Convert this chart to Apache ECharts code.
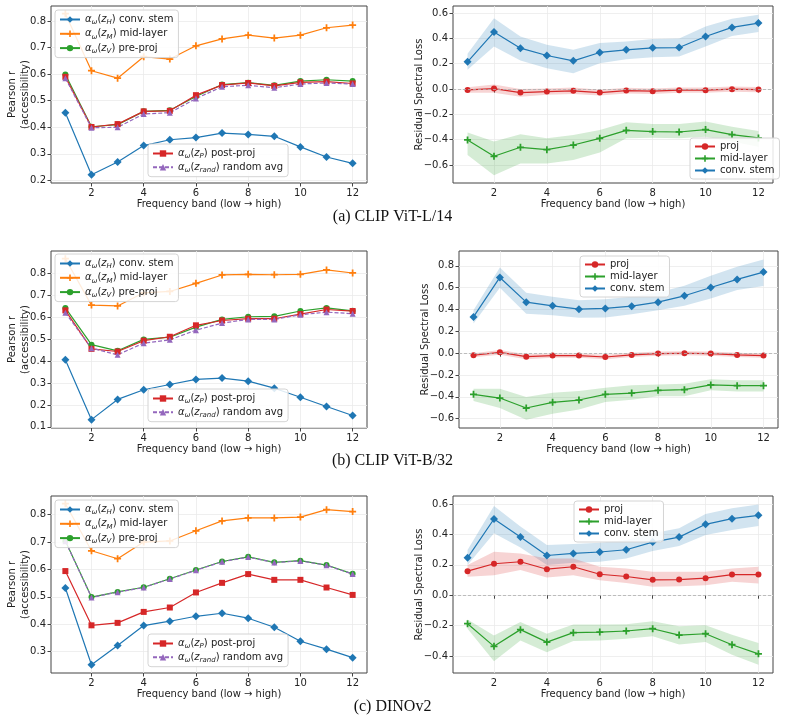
<!DOCTYPE html>
<html>
<head>
<meta charset="utf-8">
<script src="https://cdn.jsdelivr.net/npm/echarts@6/dist/echarts.min.js"></script>
<style>
  html, body { margin: 0; padding: 0; background: #fff; }
  #chart { width: 785px; height: 722px; }
</style>
</head>
<body>
<div id="chart"></div>
<script>
// frequency bands on x
const bands = [1, 2, 3, 4, 5, 6, 7, 8, 9, 10, 11, 12];
const xTicks = [2, 4, 6, 8, 10, 12];

// ---- (a) CLIP ViT-L/14 ----
const aStem = [0.455, 0.221, 0.269, 0.331, 0.353, 0.361, 0.378, 0.373, 0.366, 0.326, 0.288, 0.264];
const aMid = [0.828, 0.613, 0.585, 0.666, 0.657, 0.707, 0.733, 0.747, 0.736, 0.747, 0.775, 0.785];
const aPre = [0.599, 0.402, 0.41, 0.46, 0.464, 0.516, 0.561, 0.568, 0.558, 0.574, 0.579, 0.574];
const aPost = [0.59, 0.401, 0.412, 0.46, 0.462, 0.521, 0.559, 0.567, 0.556, 0.569, 0.572, 0.565];
const aRand = [0.585, 0.398, 0.4, 0.45, 0.455, 0.508, 0.553, 0.558, 0.549, 0.563, 0.567, 0.563];

const aLossStem = [0.215, 0.45, 0.323, 0.265, 0.223, 0.289, 0.31, 0.326, 0.328, 0.415, 0.487, 0.521];
const aLossStemHi = [0.278, 0.56, 0.415, 0.35, 0.31, 0.363, 0.376, 0.395, 0.4, 0.495, 0.555, 0.587];
const aLossStemLo = [0.152, 0.336, 0.226, 0.165, 0.125, 0.204, 0.236, 0.252, 0.257, 0.336, 0.42, 0.45];
const aLossProj = [-0.007, 0.004, -0.028, -0.02, -0.014, -0.028, -0.012, -0.017, -0.009, -0.009, -0.001, -0.004];
const aLossProjHi = [0.015, 0.035, 0.0, 0.005, 0.012, -0.005, 0.01, 0.005, 0.012, 0.012, 0.02, 0.017];
const aLossProjLo = [-0.03, -0.03, -0.06, -0.045, -0.04, -0.05, -0.035, -0.04, -0.03, -0.03, -0.022, -0.025];
const aLossMid = [-0.402, -0.531, -0.46, -0.479, -0.442, -0.389, -0.326, -0.336, -0.339, -0.32, -0.36, -0.386];
const aLossMidHi = [-0.344, -0.415, -0.357, -0.389, -0.363, -0.323, -0.262, -0.276, -0.276, -0.257, -0.297, -0.331];
const aLossMidLo = [-0.52, -0.68, -0.587, -0.587, -0.56, -0.502, -0.389, -0.384, -0.389, -0.376, -0.415, -0.455];

// ---- (b) CLIP ViT-B/32 ----
const bStem = [0.405, 0.133, 0.225, 0.269, 0.293, 0.316, 0.322, 0.308, 0.276, 0.235, 0.193, 0.152];
const bMid = [0.865, 0.654, 0.65, 0.71, 0.716, 0.753, 0.791, 0.794, 0.792, 0.794, 0.814, 0.8];
const bPre = [0.641, 0.474, 0.446, 0.498, 0.508, 0.554, 0.589, 0.601, 0.603, 0.627, 0.641, 0.628];
const bPost = [0.63, 0.455, 0.443, 0.492, 0.51, 0.562, 0.584, 0.592, 0.592, 0.613, 0.634, 0.627];
const bRand = [0.619, 0.458, 0.428, 0.481, 0.496, 0.54, 0.572, 0.589, 0.589, 0.61, 0.622, 0.615];

const bLossStem = [0.332, 0.693, 0.467, 0.433, 0.403, 0.409, 0.43, 0.467, 0.525, 0.601, 0.675, 0.742];
const bLossStemHi = [0.393, 0.785, 0.552, 0.516, 0.485, 0.494, 0.516, 0.555, 0.617, 0.708, 0.791, 0.858];
const bLossStemLo = [0.271, 0.598, 0.36, 0.348, 0.323, 0.326, 0.357, 0.393, 0.433, 0.5, 0.577, 0.614];
const bLossProj = [-0.019, 0.008, -0.032, -0.022, -0.022, -0.035, -0.016, -0.004, -0.001, -0.004, -0.016, -0.022];
const bLossProjHi = [0.0, 0.03, -0.01, -0.003, -0.003, -0.015, 0.003, 0.015, 0.018, 0.015, 0.003, -0.003];
const bLossProjLo = [-0.038, -0.015, -0.055, -0.042, -0.042, -0.055, -0.035, -0.023, -0.02, -0.023, -0.035, -0.041];
const bLossMid = [-0.377, -0.411, -0.502, -0.45, -0.429, -0.377, -0.365, -0.34, -0.334, -0.291, -0.298, -0.298];
const bLossMidHi = [-0.325, -0.325, -0.401, -0.362, -0.346, -0.316, -0.294, -0.288, -0.279, -0.239, -0.249, -0.249];
const bLossMidLo = [-0.438, -0.502, -0.609, -0.554, -0.515, -0.447, -0.426, -0.395, -0.395, -0.34, -0.35, -0.35];

// ---- (c) DINOv2 ----
const cStem = [0.532, 0.252, 0.322, 0.395, 0.411, 0.429, 0.44, 0.422, 0.389, 0.338, 0.309, 0.278];
const cMid = [0.84, 0.668, 0.639, 0.7, 0.704, 0.741, 0.777, 0.788, 0.788, 0.791, 0.818, 0.811];
const cPre = [0.704, 0.499, 0.518, 0.535, 0.566, 0.598, 0.629, 0.646, 0.626, 0.632, 0.616, 0.584];
const cPost = [0.594, 0.396, 0.405, 0.445, 0.461, 0.516, 0.551, 0.583, 0.562, 0.562, 0.534, 0.507];
const cRand = [0.703, 0.498, 0.517, 0.534, 0.565, 0.597, 0.628, 0.645, 0.625, 0.631, 0.615, 0.583];

const cLossStem = [0.246, 0.501, 0.382, 0.261, 0.275, 0.284, 0.299, 0.349, 0.382, 0.466, 0.503, 0.525];
const cLossStemHi = [0.297, 0.587, 0.451, 0.33, 0.336, 0.345, 0.363, 0.407, 0.44, 0.534, 0.571, 0.596];
const cLossStemLo = [0.198, 0.407, 0.314, 0.198, 0.213, 0.22, 0.242, 0.29, 0.323, 0.396, 0.429, 0.455];
const cLossProj = [0.158, 0.207, 0.22, 0.171, 0.187, 0.138, 0.123, 0.101, 0.103, 0.112, 0.136, 0.136];
const cLossProjHi = [0.198, 0.286, 0.275, 0.242, 0.242, 0.187, 0.176, 0.154, 0.154, 0.154, 0.176, 0.187];
const cLossProjLo = [0.121, 0.132, 0.165, 0.116, 0.132, 0.099, 0.081, 0.055, 0.059, 0.066, 0.088, 0.077];
const cLossMid = [-0.187, -0.336, -0.226, -0.308, -0.246, -0.242, -0.235, -0.22, -0.262, -0.253, -0.325, -0.385];
const cLossMidHi = [-0.16, -0.264, -0.176, -0.253, -0.193, -0.193, -0.191, -0.171, -0.204, -0.198, -0.259, -0.314];
const cLossMidLo = [-0.22, -0.433, -0.297, -0.374, -0.301, -0.297, -0.286, -0.27, -0.323, -0.308, -0.391, -0.457];

// tick labels for y axes
const accTicksA = [0.2, 0.3, 0.4, 0.5, 0.6, 0.7, 0.8];
const accTicksB = [0.1, 0.2, 0.3, 0.4, 0.5, 0.6, 0.7, 0.8];
const accTicksC = [0.3, 0.4, 0.5, 0.6, 0.7, 0.8];
const lossTicksA = [-0.6, -0.4, -0.2, 0.0, 0.2, 0.4, 0.6];
const lossTicksB = [-0.6, -0.4, -0.2, 0.0, 0.2, 0.4, 0.6, 0.8];
const lossTicksC = [-0.4, -0.2, 0.0, 0.2, 0.4, 0.6];

const captions = ['(a) CLIP ViT-L/14', '(b) CLIP ViT-B/32', '(c) DINOv2'];

// tab10 colours
const BLUE = '#1f77b4', ORANGE = '#ff7f0e', GREEN = '#2ca02c', RED = '#d62728', PURPLE = '#9467bd';
const BLUE_FILL = 'rgba(31,119,180,0.2)', RED_FILL = 'rgba(214,39,40,0.2)', GREEN_FILL = 'rgba(44,160,44,0.2)';
const PLUS = 'path://M3,0H5V3H8V5H5V8H3V5H0V3H3Z';
const TEXT = '#222';

const grids = [], xAxes = [], yAxes = [], series = [], legends = [];

const tickFmt = (v) => (v < 0 ? '\u2212' : '') + Math.abs(v).toFixed(1);

function addPanel(box, yMin, yMax, yTicks, yName, yGap) {
  const i = grids.length;
  grids.push({
    left: box[0], top: box[1], width: box[2], height: box[3],
    show: true, borderColor: '#444', borderWidth: 1, backgroundColor: 'transparent'
  });
  xAxes.push({
    gridIndex: i, type: 'value', min: 0.45, max: 12.55,
    name: 'Frequency band (low \u2192 high)', nameLocation: 'middle', nameGap: 16,
    nameMoveOverlap: false,
    nameTextStyle: { fontSize: 10, color: TEXT },
    axisLine: { show: false },
    axisTick: { show: true, length: 3.5, customValues: xTicks, lineStyle: { color: '#444' } },
    axisLabel: { customValues: xTicks, fontSize: 10, color: TEXT, margin: 5 },
    splitLine: { show: true, lineStyle: { color: '#ebebeb', width: 0.8 } }
  });
  yAxes.push({
    gridIndex: i, type: 'value', min: yMin, max: yMax,
    name: yName, nameLocation: 'middle', nameGap: yGap,
    nameMoveOverlap: false,
    nameTextStyle: { fontSize: 10, color: TEXT, lineHeight: 13 },
    axisLine: { show: false },
    axisTick: { show: true, length: 3.5, customValues: yTicks, lineStyle: { color: '#444' } },
    axisLabel: { customValues: yTicks, fontSize: 10, color: TEXT, margin: 5, formatter: tickFmt },
    splitLine: { show: true, lineStyle: { color: '#ebebeb', width: 0.8 } }
  });
  return i;
}

function addLine(i, name, vals, color, symbol, size, dashed) {
  series.push({
    type: 'line', name: name, xAxisIndex: i, yAxisIndex: i,
    data: bands.map((b, k) => [b, vals[k]]),
    symbol: symbol, symbolSize: size, showAllSymbol: true,
    lineStyle: { color: color, width: 1.2, type: dashed ? [4, 2] : 'solid' },
    itemStyle: { color: color },
    z: 3
  });
  return series[series.length - 1];
}

// shaded spread: one polygon, upper edge then lower edge back
function addBand(i, lo, hi, fill) {
  series.push({
    type: 'custom', xAxisIndex: i, yAxisIndex: i, silent: true, z: 1,
    data: bands.map((b, k) => [b, lo[k], hi[k]]),
    encode: { x: 0, y: [1, 2] },
    renderItem: (params, api) => {
      if (params.dataIndex !== 0) return null;
      const top = bands.map((b, k) => api.coord([b, hi[k]]));
      const bot = bands.map((b, k) => api.coord([b, lo[k]])).reverse();
      return { type: 'polygon', shape: { points: top.concat(bot) }, style: { fill: fill } };
    }
  });
}

const mathNames = {
  zH: '{m|\u03b1}{s|\u03c9}({m|z}{s|H}) conv. stem',
  zM: '{m|\u03b1}{s|\u03c9}({m|z}{s|M}) mid-layer',
  zV: '{m|\u03b1}{s|\u03c9}({m|z}{s|V}) pre-proj',
  zP: '{m|\u03b1}{s|\u03c9}({m|z}{s|P}) post-proj',
  zR: '{m|\u03b1}{s|\u03c9}({m|z}{s|rand}) random avg'
};

const legendBase = {
  orient: 'vertical', itemWidth: 20, itemHeight: 8,
  padding: [3, 5, 3, 4],
  backgroundColor: 'rgba(255,255,255,0.85)',
  borderColor: '#d4d4d4', borderWidth: 1, borderRadius: 3,
  selectedMode: false
};

function mathLegend(left, top, names, gap) {
  legends.push(Object.assign({}, legendBase, {
    left: left, top: top, itemGap: gap,
    data: names,
    formatter: (n) => mathNames[n],
    textStyle: {
      fontSize: 10, color: TEXT, lineHeight: 13,
      rich: {
        m: { fontStyle: 'italic', fontSize: 10, color: TEXT, lineHeight: 13 },
        s: { fontStyle: 'italic', fontSize: 7, color: TEXT, lineHeight: 7, verticalAlign: 'bottom' }
      }
    }
  }));
}

function lossLegend(left, top) {
  legends.push(Object.assign({}, legendBase, {
    left: left, top: top, itemGap: 1,
    data: ['proj', 'mid-layer', 'conv. stem'],
    textStyle: { fontSize: 10, color: TEXT, lineHeight: 11 }
  }));
}

function accessPanel(box, yMin, yMax, ticks, d, legTop, legLowTop) {
  const i = addPanel(box, yMin, yMax, ticks, 'Pearson r\n(accessibility)', 19);
  addLine(i, 'zH', d[0], BLUE, 'diamond', 8);
  addLine(i, 'zM', d[1], ORANGE, PLUS, 7);
  addLine(i, 'zV', d[2], GREEN, 'circle', 6);
  addLine(i, 'zP', d[3], RED, 'rect', 6);
  addLine(i, 'zR', d[4], PURPLE, 'triangle', 6, true);
  mathLegend(55, legTop, ['zH', 'zM', 'zV'], 1.3);
  mathLegend(148, legLowTop, ['zP', 'zR'], 0.7);
}

function lossPanel(box, yMin, yMax, ticks, stem, mid, proj, legLeft, legTop) {
  const i = addPanel(box, yMin, yMax, ticks, 'Residual Spectral Loss', 27);
  addBand(i, stem[1], stem[2], BLUE_FILL);
  addBand(i, proj[1], proj[2], RED_FILL);
  addBand(i, mid[1], mid[2], GREEN_FILL);
  const p = addLine(i, 'proj', proj[0], RED, 'circle', 6);
  p.markLine = {
    silent: true, symbol: 'none', label: { show: false },
    lineStyle: { color: '#b0b0b0', type: [3, 2], width: 0.8 },
    data: [{ yAxis: 0 }]
  };
  addLine(i, 'mid-layer', mid[0], GREEN, PLUS, 7);
  addLine(i, 'conv. stem', stem[0], BLUE, 'diamond', 8);
  lossLegend(legLeft, legTop);
}

// row (a)
accessPanel([51, 6, 316, 177], 0.19, 0.857, accTicksA, [aStem, aMid, aPre, aPost, aRand], 10, 144);
lossPanel([453, 6, 320, 177], -0.742, 0.656, lossTicksA,
  [aLossStem, aLossStemLo, aLossStemHi], [aLossMid, aLossMidLo, aLossMidHi], [aLossProj, aLossProjLo, aLossProjHi], 690, 138);

// row (b)
accessPanel([51, 251, 316, 177], 0.095, 0.9, accTicksB, [bStem, bMid, bPre, bPost, bRand], 254, 389);
lossPanel([459, 251, 319, 177], -0.685, 0.935, lossTicksB,
  [bLossStem, bLossStemLo, bLossStemHi], [bLossMid, bLossMidLo, bLossMidHi], [bLossProj, bLossProjLo, bLossProjHi], 580, 256);

// row (c)
accessPanel([51, 496, 316, 177], 0.222, 0.868, accTicksC, [cStem, cMid, cPre, cPost, cRand], 500, 634);
lossPanel([453, 496, 320, 177], -0.511, 0.652, lossTicksC,
  [cLossStem, cLossStemLo, cLossStemHi], [cLossMid, cLossMidLo, cLossMidHi], [cLossProj, cLossProjLo, cLossProjHi], 574, 501);

const captionTops = [209, 453, 699];
const titles = captions.map((t, k) => ({
  text: t, left: 'center', top: captionTops[k], padding: 0,
  textStyle: { fontFamily: 'Liberation Serif', fontSize: 16, fontWeight: 'normal', color: '#111' }
}));

const chart = echarts.init(document.getElementById('chart'));
chart.setOption({
  animation: false,
  textStyle: { fontFamily: 'DejaVu Sans' },
  title: titles,
  grid: grids,
  xAxis: xAxes,
  yAxis: yAxes,
  legend: legends,
  series: series
});
</script>
</body>
</html>
